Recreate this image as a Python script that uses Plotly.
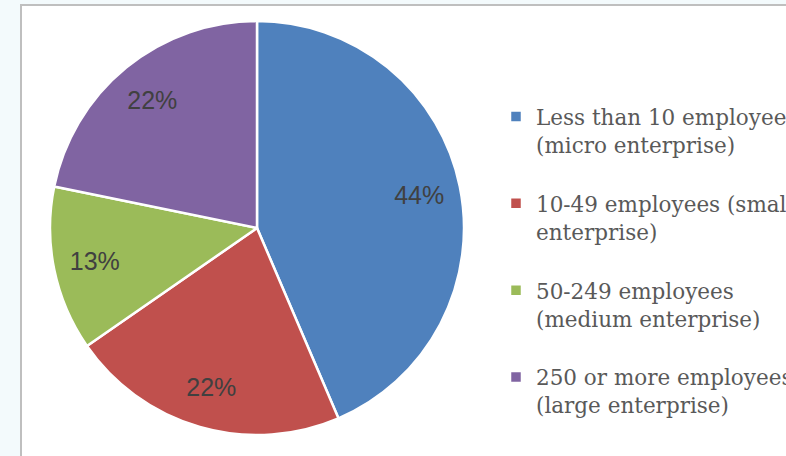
import plotly.graph_objects as go

categories = [
    "Less than 10 employees<br>(micro enterprise)<br> ",
    "10-49 employees (small<br>enterprise)<br> ",
    "50-249 employees<br>(medium enterprise)<br> ",
    "250 or more employees<br>(large enterprise)<br> ",
]
values = [44, 22, 13, 22]
colors = ["#4F81BD", "#C0504D", "#9BBB59", "#8064A2"]

W, H = 786, 456
cx, cy, R = 257, 228, 207
dom_x = [(cx - R) / W, (cx + R) / W]
dom_y = [1 - (cy + R) / H, 1 - (cy - R) / H]

fig = go.Figure()
fig.add_trace(go.Pie(
    labels=categories, values=values, sort=False, direction="clockwise",
    marker=dict(colors=colors, line=dict(color="white", width=2.5)),
    textinfo="none", domain=dict(x=dom_x, y=dom_y), hoverinfo="label+percent",
))
fig.add_trace(go.Pie(
    labels=categories, values=values, sort=False, direction="clockwise",
    hole=0.6, showlegend=False, hoverinfo="skip",
    marker=dict(colors=["rgba(0,0,0,0)"] * 4, line=dict(width=0)),
    texttemplate="%{percent:.0%}", textposition="inside",
    insidetextorientation="horizontal",
    textfont=dict(family="Liberation Sans, Arial, sans-serif", size=25, color="#404040"),
    domain=dict(x=dom_x, y=dom_y),
))

fig.update_layout(
    width=W, height=H,
    margin=dict(l=0, r=0, t=0, b=0, autoexpand=False),
    paper_bgcolor="#f3fafc",
    plot_bgcolor="white",
    showlegend=True,
    legend=dict(
        x=496 / W, xanchor="left", y=1 - 96 / H, yanchor="top",
        valign="top",
        font=dict(family="DejaVu Serif, serif", size=21.5, color="#595959"),
        bgcolor="rgba(0,0,0,0)",
    ),
    shapes=[dict(
        type="rect", xref="paper", yref="paper", layer="below",
        x0=21 / W, x1=1.05, y0=-0.05, y1=1 - 5 / H,
        fillcolor="white", line=dict(color="#bfbfbf", width=2),
    )],
)

fig.write_html(
    "out.html",
    config={"displayModeBar": False},
    post_script="document.body.style.margin='0';document.body.style.overflow='hidden';",
)
